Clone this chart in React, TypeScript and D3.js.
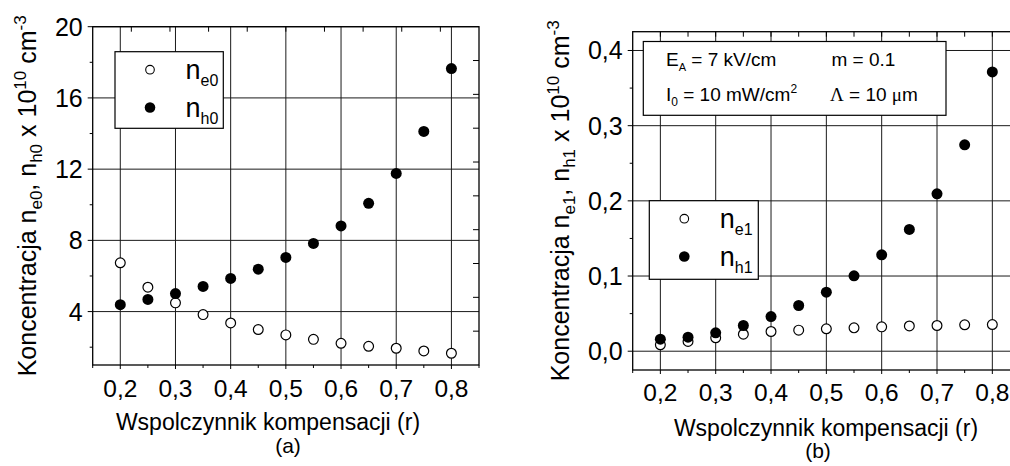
import React from 'react';
import * as d3 from 'd3';

// Compensation ratio r (x values shared by both panels)
const rValues = [0.2, 0.25, 0.3, 0.35, 0.4, 0.45, 0.5, 0.55, 0.6, 0.65, 0.7, 0.75, 0.8];

// Panel (a): steady-state concentrations, x 10^10 cm^-3
const ne0 = [6.74, 5.37, 4.49, 3.83, 3.36, 2.99, 2.69, 2.44, 2.22, 2.05, 1.94, 1.79, 1.66];
const nh0 = [4.39, 4.68, 5.01, 5.41, 5.86, 6.38, 7.04, 7.83, 8.81, 10.08, 11.76, 14.12, 17.65];

// Panel (b): first-harmonic amplitudes, x 10^10 cm^-3
const ne1 = [0.0085, 0.013, 0.0178, 0.0226, 0.0262, 0.028, 0.0298, 0.0311, 0.0324, 0.0336, 0.0342, 0.0351, 0.0355];
const nh1 = [0.016, 0.0186, 0.0245, 0.0342, 0.0461, 0.0608, 0.0785, 0.1003, 0.1282, 0.162, 0.2093, 0.2745, 0.3715];

const xTicks = [0.2, 0.3, 0.4, 0.5, 0.6, 0.7, 0.8];
const xMinorTicks = [0.15, 0.25, 0.35, 0.45, 0.55, 0.65, 0.75, 0.85];
const yTicksA = [4, 8, 12, 16, 20];
const yMinorA = [2, 6, 10, 14, 18];
const yTicksB = [0, 0.1, 0.2, 0.3, 0.4];
const yMinorB = [0.05, 0.15, 0.25, 0.35];

const FONT = '"Liberation Sans", Arial, Helvetica, sans-serif';
const SERIF = '"Liberation Serif", "Times New Roman", serif';

const comma = (v: number, digits: number) => v.toFixed(digits).replace('.', ',');

type Sub = { base: string; sub: string };

interface PanelProps {
  left: number;
  right: number;
  top: number;
  bottom: number;
  xDomain: [number, number];
  yDomain: [number, number];
  yTicks: number[];
  yMinor: number[];
  yFmt: (v: number) => string;
  topTicks: number[];
  rightTicks: number[];
  open: number[];
  filled: number[];
  legend: { x: number; y: number; w: number; h: number; labels: [Sub, Sub] };
  yLabelX: number;
  yLabel: [string, string, string, string];
  xLabel: { cx: number; y: number };
  tag: { text: string; cx: number; y: number };
  tickLabelGap: number;
  children?: React.ReactNode;
}

function Panel(p: PanelProps) {
  const x = d3.scaleLinear().domain(p.xDomain).range([p.left, p.right]);
  const y = d3.scaleLinear().domain(p.yDomain).range([p.bottom, p.top]);
  const gridStroke = '#1a1a1a';
  const cy = (p.top + p.bottom) / 2;
  const lg = p.legend;
  const symY = [lg.y + 18, lg.y + 55.8];
  return (
    <g fontFamily={FONT}>
      {/* grid */}
      {xTicks.map((t) => (
        <line key={'gx' + t} x1={x(t)} x2={x(t)} y1={p.top} y2={p.bottom} stroke={gridStroke} strokeWidth={1} />
      ))}
      {p.yTicks.map((t) => (
        <line key={'gy' + t} x1={p.left} x2={p.right} y1={y(t)} y2={y(t)} stroke={gridStroke} strokeWidth={1} />
      ))}
      {/* frame */}
      <rect x={p.left} y={p.top} width={p.right - p.left} height={p.bottom - p.top} fill="none" stroke="#000" strokeWidth={1.3} />
      {/* bottom ticks */}
      {xTicks.map((t) => (
        <line key={'bx' + t} x1={x(t)} x2={x(t)} y1={p.bottom} y2={p.bottom + 4} stroke="#000" />
      ))}
      {xMinorTicks.map((t) => (
        <line key={'bxm' + t} x1={x(t)} x2={x(t)} y1={p.bottom} y2={p.bottom + 3} stroke="#000" />
      ))}
      {/* left ticks */}
      {p.yTicks.map((t) => (
        <line key={'ly' + t} x1={p.left - 5} x2={p.left} y1={y(t)} y2={y(t)} stroke="#000" />
      ))}
      {p.yMinor.map((t) => (
        <line key={'lym' + t} x1={p.left - 3} x2={p.left} y1={y(t)} y2={y(t)} stroke="#000" />
      ))}
      {/* top and right ticks */}
      {p.topTicks.map((t) => (
        <line key={'tx' + t} x1={x(t)} x2={x(t)} y1={p.top} y2={p.top + 5} stroke="#000" />
      ))}
      {p.rightTicks.map((t) => (
        <line key={'ry' + t} x1={p.right - 6} x2={p.right} y1={y(t)} y2={y(t)} stroke="#000" />
      ))}
      {/* tick labels */}
      {xTicks.map((t) => (
        <text key={'xl' + t} x={x(t)} y={p.bottom + p.tickLabelGap} textAnchor="middle" fontSize={24.5}>
          {comma(t, 1)}
        </text>
      ))}
      {p.yTicks.map((t) => (
        <text key={'yl' + t} x={p.left - 10} y={y(t)} dy="0.36em" textAnchor="end" fontSize={25}>
          {p.yFmt(t)}
        </text>
      ))}
      {/* axis titles */}
      <text x={p.xLabel.cx} y={p.xLabel.y} textAnchor="middle" fontSize={23}>
        Wspolczynnik kompensacji (r)
      </text>
      <text x={p.tag.cx} y={p.tag.y} textAnchor="middle" fontSize={21}>
        {p.tag.text}
      </text>
      <text transform={`translate(${p.yLabelX},${cy}) rotate(-90)`} textAnchor="middle" fontSize={25}>
        <tspan>Koncentracja n</tspan>
        <tspan fontSize={17} dy={6}>{p.yLabel[0]}</tspan>
        <tspan dy={-6}>, n</tspan>
        <tspan fontSize={17} dy={6}>{p.yLabel[1]}</tspan>
        <tspan dy={-6}> x 10</tspan>
        <tspan fontSize={17} dy={-10}>{p.yLabel[2]}</tspan>
        <tspan dy={10}> cm</tspan>
        <tspan fontSize={17} dy={-10}>{p.yLabel[3]}</tspan>
      </text>
      {p.children}
      {/* legend */}
      <rect x={lg.x} y={lg.y} width={lg.w} height={lg.h} fill="#fff" stroke="#000" strokeWidth={1.2} />
      <circle cx={lg.x + 35} cy={symY[0]} r={4.3} fill="#fff" stroke="#000" strokeWidth={1.1} />
      <circle cx={lg.x + 35} cy={symY[1]} r={5.3} fill="#000" />
      {lg.labels.map((l, i) => (
        <text key={'lg' + i} x={lg.x + 70.5} y={symY[i] + 9.3} fontSize={27}>
          <tspan>{l.base}</tspan>
          <tspan fontSize={16} dy={6.8}>{l.sub}</tspan>
        </text>
      ))}
      {/* data */}
      {rValues.map((r, i) => (
        <circle key={'o' + i} cx={x(r)} cy={y(p.open[i])} r={4.9} fill="#fff" stroke="#000" strokeWidth={1.2} />
      ))}
      {rValues.map((r, i) => (
        <circle key={'f' + i} cx={x(r)} cy={y(p.filled[i])} r={5.5} fill="#000" />
      ))}
    </g>
  );
}

export default function App() {
  const topTicksA = d3.range(1, 10).map((k) => 0.15 + k * 0.07);
  const rightTicksA = d3.range(1, 10).map((k) => 1 + k * 1.9);
  const topTicksB = d3.range(0.2, 0.86, 0.05);
  return (
    <svg width={1010} height={466} style={{ position: 'absolute', left: 0, top: 0, background: '#fff' }}>
      <rect width={1010} height={466} fill="#fff" />
      <Panel
        left={92.7}
        right={479}
        top={26.7}
        bottom={365}
        xDomain={[0.15, 0.85]}
        yDomain={[1, 20]}
        yTicks={yTicksA}
        yMinor={yMinorA}
        yFmt={(v) => String(v)}
        topTicks={topTicksA}
        rightTicks={rightTicksA}
        open={ne0}
        filled={nh0}
        legend={{ x: 115, y: 51.7, w: 108.3, h: 76.6, labels: [{ base: 'n', sub: 'e0' }, { base: 'n', sub: 'h0' }] }}
        yLabelX={35.5}
        yLabel={['e0', 'h0', '10', '-3']}
        xLabel={{ cx: 268, y: 429.5 }}
        tag={{ text: '(a)', cx: 288, y: 453 }}
        tickLabelGap={32}
      />
      <Panel
        left={632.7}
        right={1020}
        top={31.7}
        bottom={370}
        xDomain={[0.15, 0.85]}
        yDomain={[-0.025, 0.425]}
        yTicks={yTicksB}
        yMinor={yMinorB}
        yFmt={(v) => comma(v, 1)}
        topTicks={topTicksB}
        rightTicks={[]}
        open={ne1}
        filled={nh1}
        legend={{ x: 649.3, y: 200.7, w: 109, h: 78.6, labels: [{ base: 'n', sub: 'e1' }, { base: 'n', sub: 'h1' }] }}
        yLabelX={568.5}
        yLabel={['e1', 'h1', '10', '-3']}
        xLabel={{ cx: 826, y: 436 }}
        tag={{ text: '(b)', cx: 818, y: 458 }}
        tickLabelGap={30.5}
      >
        {/* parameter box */}
        <g fontSize={19}>
          <rect x={643.3} y={41.5} width={302.7} height={73.8} fill="#fff" stroke="#000" strokeWidth={1.2} />
          <text x={666} y={66.3}>
            <tspan>E</tspan>
            <tspan fontSize={11} dy={5}>A</tspan>
            <tspan dy={-5}> = 7 kV/cm</tspan>
          </text>
          <text x={831.5} y={66.3}>m = 0.1</text>
          <text x={666} y={100.7}>
            <tspan>I</tspan>
            <tspan fontSize={12} dy={5}>0</tspan>
            <tspan dy={-5}> = 10 mW/cm</tspan>
            <tspan fontSize={12} dy={-8}>2</tspan>
          </text>
          <text x={830} y={100.7}>
            <tspan fontFamily={SERIF}>Λ</tspan>
            <tspan> = 10 </tspan>
            <tspan fontFamily={SERIF}>μ</tspan>
            <tspan>m</tspan>
          </text>
        </g>
      </Panel>
    </svg>
  );
}
